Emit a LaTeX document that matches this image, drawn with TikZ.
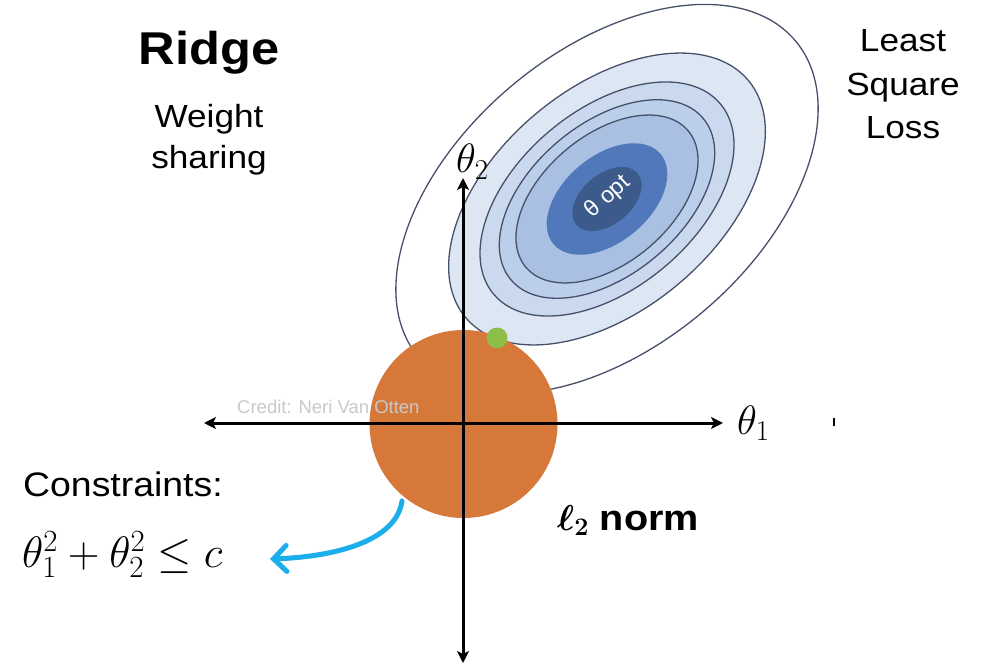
\documentclass[tikz,border=0pt]{standalone}
\usepackage{fix-cm}
\usepackage{amsmath}
\usepackage[no-math]{fontspec}
\setmainfont{Liberation Sans}[FakeStretch=1.1]
\newfontfamily\plainsans{Liberation Sans}
\usetikzlibrary{arrows.meta}
\definecolor{orng}{HTML}{D5783A}
\definecolor{grn}{HTML}{8CBE48}
\definecolor{cline}{HTML}{46506A}
\definecolor{cA}{HTML}{DDE6F3}
\definecolor{cB}{HTML}{CBD9EE}
\definecolor{cC}{HTML}{BBCEEA}
\definecolor{cD}{HTML}{A9C0E3}
\definecolor{cMed}{HTML}{5078BB}
\definecolor{cDark}{HTML}{3C5A8A}
\definecolor{arrblue}{HTML}{1AAEEA}
\definecolor{credit}{HTML}{C9C9C9}
\tikzset{
  lbl/.style={inner sep=0pt, text=black},
  contour/.style={draw=cline, line width=1.3pt},
  axis/.style={line width=3pt, {Stealth[length=12pt,width=12pt,inset=3pt]}-{Stealth[length=12pt,width=12pt,inset=3pt]}},
}
\begin{document}
\begin{tikzpicture}[x=1pt,y=1pt]
\useasboundingbox (0,0) rectangle (987,665);
\fill[white] (0,0) rectangle (987,665);
% loss contours
\coordinate (opt) at (607,466);
\begin{scope}[rotate around={40:(opt)}]
  \draw[contour, fill=white] (opt) ellipse [x radius=246, y radius=148];
  \draw[contour, fill=cA] (opt) ellipse [x radius=184.5, y radius=111];
  \draw[contour, fill=cB] (opt) ellipse [x radius=148, y radius=89];
  \draw[contour, fill=cC] (opt) ellipse [x radius=125.5, y radius=75.5];
  \draw[contour, fill=cD] (opt) ellipse [x radius=106, y radius=64];
  \fill[cMed] (opt) ellipse [x radius=70, y radius=43];
  \fill[cDark] (opt) ellipse [x radius=40, y radius=25];
\end{scope}
\node[lbl, text=white, rotate=42, font=\plainsans\fontsize{23}{26}\selectfont] (optlbl) at (608,468) {θ opt};
% constraint disc
\fill[orng] (463.5,241) circle [radius=94];
\fill[grn] (497,327) circle [radius=10.5];
% credit
\node[lbl, text=credit, anchor=base west, font=\plainsans\fontsize{18.5}{20}\selectfont] (credit) at (237,252) {Credit: Neri Van Otten};
% axes
\coordinate (xl) at (204,242);
\coordinate (xr) at (723,242);
\coordinate (yt) at (463,487);
\coordinate (yb) at (463,2);
\draw[axis] (xl) -- (xr);
\draw[axis] (yb) -- (yt);
\coordinate (tk1) at (834,247);
\coordinate (tk2) at (834,239);
\draw[line width=2pt] (tk1) -- (tk2);
% axis labels
\node[lbl, anchor=base west, font=\fontsize{41}{44}\selectfont] (t1) at (737,231) {$\theta_1$};
\node[lbl, anchor=base west, font=\fontsize{41}{44}\selectfont] (t2) at (456,492) {$\theta_2$};
% texts
\node[lbl, anchor=base, font=\fontsize{46}{50}\selectfont\bfseries] (ridge) at (209,600) {Ridge};
\node[lbl, anchor=base, font=\fontsize{32}{36}\selectfont] (w1) at (209,537) {Weight};
\node[lbl, anchor=base, font=\fontsize{32}{36}\selectfont] (w2) at (209,496) {sharing};
\node[lbl, anchor=base, font=\fontsize{32}{36}\selectfont] (l1) at (903,613) {Least};
\node[lbl, anchor=base, font=\fontsize{32}{36}\selectfont] (l2) at (903,569) {Square};
\node[lbl, anchor=base, font=\fontsize{32}{36}\selectfont] (l3) at (903,526) {Loss};
\node[lbl, anchor=base west, font=\fontsize{34}{36}\selectfont] (cons) at (23,169) {Constraints:};
\node[lbl, anchor=base west, font=\fontsize{44}{48}\selectfont] (eq) at (22,98) {$\theta_1^2+\theta_2^2\leq c$};
\node[lbl, anchor=base west, font=\fontsize{36}{40}\selectfont\bfseries] (norm) at (557,135) {$\boldsymbol{\ell}_{\mathbf{2}}$ norm};
% blue arrow
\coordinate (as) at (402,164);
\coordinate (ae) at (270,106);
\draw[arrblue, line width=5pt, line cap=round, -{Straight Barb[length=13pt,width=26pt,line cap=round]}] (as) .. controls (396,122) and (330,108) .. (ae);
\end{tikzpicture}
\end{document}
